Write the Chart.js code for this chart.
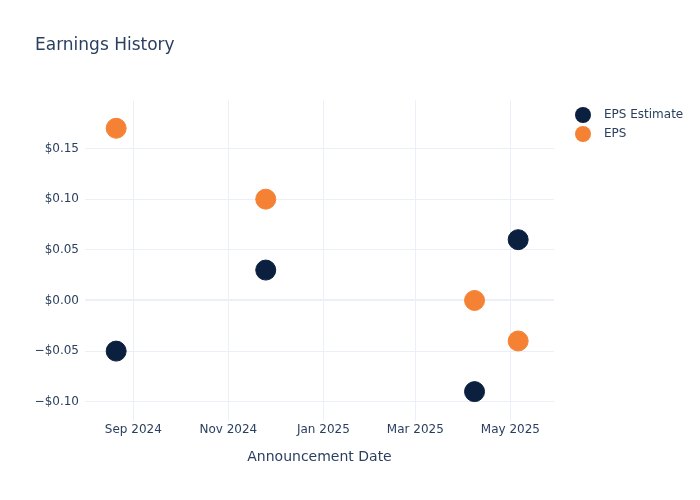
<!DOCTYPE html>
<html>
<head>
<meta charset="utf-8">
<script src="https://cdn.jsdelivr.net/npm/chart.js@4.4.0/dist/chart.umd.min.js"></script>
<style>
html, body { margin: 0; padding: 0; background: #fff; }
</style>
</head>
<body>
<canvas id="mychart" width="700" height="500"></canvas>
<script>
// announcement dates and values
var dates = ['2024-08-21', '2024-11-25', '2025-04-08', '2025-05-06'];
var epsEstimate = [-0.05, 0.03, -0.09, 0.06];
var eps = [0.17, 0.10, 0.00, -0.04];
var monthTicks = ['2024-09-01', '2024-11-01', '2025-01-01', '2025-03-01', '2025-05-01'];
var yTicks = [-0.10, -0.05, 0, 0.05, 0.10, 0.15];
var monthNames = ['Jan', 'Feb', 'Mar', 'Apr', 'May', 'Jun', 'Jul', 'Aug', 'Sep', 'Oct', 'Nov', 'Dec'];

var textColor = '#2a3f5f';
var gridColor = '#ebf0f8';
var font = '"DejaVu Sans", Verdana, sans-serif';

function toMs (d) {
    return Date.parse(d + 'T00:00:00Z');
}

function points (vals) {
    return vals.map(function (v, i) { return {x: toMs(dates[i]), y: v}; });
}

// plotly-ish legend on the right
var sideLegend = {
    id: 'sideLegend',
    afterDraw: function (chart) {
        var ctx = chart.ctx;
        ctx.save();
        chart.data.datasets.forEach(function (ds, i) {
            var y = 115 + i * 19;
            ctx.beginPath();
            ctx.arc(583, y, 8, 0, Math.PI * 2);
            ctx.fillStyle = ds.backgroundColor;
            ctx.fill();
            ctx.fillStyle = textColor;
            ctx.font = '12px ' + font;
            ctx.textBaseline = 'middle';
            ctx.textAlign = 'left';
            ctx.fillText(ds.label, 604, y);
        });
        ctx.restore();
    }
};

var ctx = document.getElementById('mychart').getContext('2d');
var myChart = new Chart(ctx, {
    type: 'scatter',
    data: {
        datasets: [{
            label: 'EPS Estimate',
            data: points(epsEstimate),
            backgroundColor: '#0b1f3f',
            borderColor: '#0b1f3f',
            pointRadius: 10,
            pointHoverRadius: 10
        }, {
            label: 'EPS',
            data: points(eps),
            backgroundColor: '#f58234',
            borderColor: '#f58234',
            pointRadius: 10,
            pointHoverRadius: 10
        }]
    },
    options: {
        responsive: false,
        animation: false,
        layout: {
            padding: {left: 35, right: 146, top: 0, bottom: 34}
        },
        plugins: {
            legend: {display: false},
            tooltip: {enabled: false},
            title: {
                display: true,
                text: 'Earnings History',
                align: 'start',
                color: textColor,
                font: {family: font, size: 17, weight: 'normal'},
                padding: {top: 35, bottom: 45}
            }
        },
        scales: {
            x: {
                type: 'linear',
                min: toMs('2024-08-01'),
                max: toMs('2025-05-29'),
                afterFit: function (scale) { scale.height = 45; },
                afterBuildTicks: function (scale) {
                    scale.ticks = monthTicks.map(function (d) { return {value: toMs(d)}; });
                },
                ticks: {
                    color: textColor,
                    font: {family: font, size: 12},
                    padding: 2,
                    maxRotation: 0,
                    callback: function (v) {
                        var d = new Date(v);
                        return monthNames[d.getUTCMonth()] + ' ' + d.getUTCFullYear();
                    }
                },
                grid: {color: gridColor, drawTicks: false},
                border: {display: false},
                title: {
                    display: true,
                    text: 'Announcement Date',
                    color: textColor,
                    font: {family: font, size: 14},
                    padding: {top: 8, bottom: 0}
                }
            },
            y: {
                min: -0.119,
                max: 0.1975,
                afterFit: function (scale) { scale.width = 50; },
                afterBuildTicks: function (scale) {
                    scale.ticks = yTicks.map(function (v) { return {value: v}; });
                },
                ticks: {
                    color: textColor,
                    font: {family: font, size: 12},
                    padding: 6,
                    callback: function (v) {
                        return (v < -1e-9 ? '\u2212' : '') + '$' + Math.abs(v).toFixed(2);
                    }
                },
                grid: {
                    color: gridColor,
                    drawTicks: false,
                    lineWidth: function (c) { return c.tick && Math.abs(c.tick.value) < 1e-9 ? 2 : 1; }
                },
                border: {display: false}
            }
        }
    },
    plugins: [sideLegend]
});
</script>
</body>
</html>
